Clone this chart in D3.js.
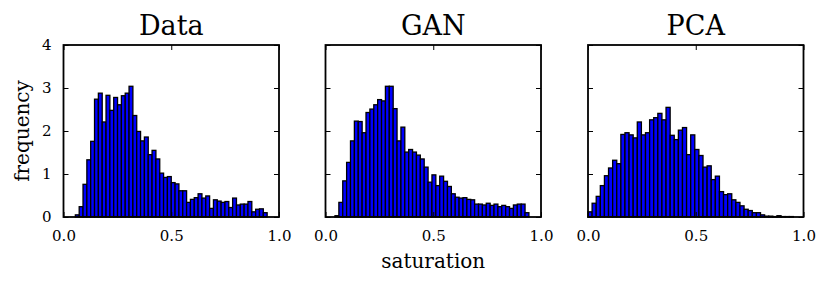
<!DOCTYPE html>
<html lang="en">
<head>
    <meta charset="UTF-8">
    <title>Saturation histograms</title>
    <script src="https://d3js.org/d3.v7.min.js"></script>
    <style>
        body { margin: 0; background: white; }
        svg { display: block; }
        text { font-family: "DejaVu Serif", serif; fill: black; }
        .bar { fill: #0000ff; stroke: black; stroke-width: 1.3px; }
        .frame { fill: none; stroke: black; stroke-width: 1.8px; }
        .tick line { stroke: black; stroke-width: 1px; }
    </style>
</head>
<body>
    <svg width="830" height="286"></svg>

    <script>
        // histogram bin ranges (lo, hi), 50 bins each
        let titles = ["Data", "GAN", "PCA"];
        let binRanges = [[0.055, 0.945], [0.044, 0.944], [0.0, 0.953]];
        let dataCounts = [0.05, 0.24, 0.76, 1.33, 1.76, 2.74, 2.88, 2.21, 2.83, 2.48,
            2.78, 2.61, 2.82, 2.88, 3.04, 2.36, 1.99, 1.77, 1.86, 1.45,
            1.55, 1.35, 1.02, 0.92, 0.94, 0.80, 0.77, 0.61, 0.61, 0.34,
            0.41, 0.45, 0.54, 0.44, 0.49, 0.20, 0.40, 0.37, 0.34, 0.36,
            0.22, 0.44, 0.28, 0.30, 0.30, 0.36, 0.12, 0.18, 0.19, 0.10];
        let ganCounts = [0.03, 0.34, 0.84, 1.27, 1.77, 2.23, 2.22, 1.96, 2.43, 2.51,
            2.61, 2.73, 2.70, 3.04, 3.04, 2.52, 1.77, 2.09, 1.51, 1.57,
            1.51, 1.44, 1.35, 1.16, 0.81, 0.98, 0.73, 0.95, 0.83, 0.71,
            0.54, 0.46, 0.44, 0.45, 0.41, 0.40, 0.30, 0.30, 0.28, 0.32,
            0.27, 0.30, 0.24, 0.27, 0.24, 0.20, 0.28, 0.30, 0.30, 0.10];
        let pcaCounts = [0.12, 0.32, 0.48, 0.73, 0.96, 1.14, 1.32, 1.24, 1.92, 1.96,
            1.91, 1.84, 2.21, 1.91, 1.96, 2.26, 2.31, 2.41, 2.26, 2.55,
            1.90, 1.80, 2.02, 2.08, 1.45, 1.91, 1.57, 1.43, 1.16, 1.19,
            0.87, 0.95, 0.59, 0.52, 0.54, 0.40, 0.34, 0.26, 0.18, 0.15,
            0.10, 0.10, 0.05, 0.02, 0.02, 0.01, 0.03, 0.01, 0.01, 0.01];
        let xTicks = [0, 0.5, 1];
        let yTicks = [0, 1, 2, 3, 4];

        let allCounts = [dataCounts, ganCounts, pcaCounts];
        let panelLeft = [63.5, 325.5, 588];
        let panelW = 215.5, plotTop = 45, plotBottom = 217;

        let svg = d3.select("svg");
        let y = d3.scaleLinear().domain([0, 4]).range([plotBottom, plotTop]);

        allCounts.forEach((counts, p) => {
            let x = d3.scaleLinear().domain([0, 1]).range([panelLeft[p], panelLeft[p] + panelW]);
            let g = svg.append("g");
            let lo = binRanges[p][0], hi = binRanges[p][1];
            let w = (hi - lo) / counts.length;
            let bins = counts.map((c, i) => ({x0: lo + i * w, x1: lo + (i + 1) * w, v: c}));

            g.selectAll(".bar")
                .data(bins)
                .enter().append("rect")
                .attr("class", "bar")
                .attr("x", d => x(d.x0))
                .attr("width", d => x(d.x1) - x(d.x0))
                .attr("y", d => y(d.v))
                .attr("height", d => y(0) - y(d.v));

            // inward ticks on all four sides
            let axB = g.append("g").attr("transform", `translate(0,${plotBottom})`)
                .call(d3.axisBottom(x).tickValues(xTicks).tickSize(-5).tickPadding(13).tickFormat(d3.format(".1f")));
            let axT = g.append("g").attr("transform", `translate(0,${plotTop})`)
                .call(d3.axisTop(x).tickValues(xTicks).tickSize(-5).tickFormat(""));
            let axL = g.append("g").attr("transform", `translate(${panelLeft[p]},0)`)
                .call(d3.axisLeft(y).tickValues(yTicks).tickSize(-5).tickPadding(12)
                    .tickFormat(p === 0 ? d3.format("d") : ""));
            let axR = g.append("g").attr("transform", `translate(${panelLeft[p] + panelW},0)`)
                .call(d3.axisRight(y).tickValues(yTicks).tickSize(-5).tickFormat(""));
            [axB, axT, axL, axR].forEach(a => {
                a.select(".domain").remove();
                a.selectAll("text").style("font-family", '"DejaVu Serif", serif').style("font-size", "15px");
            });

            g.append("rect")
                .attr("class", "frame")
                .attr("x", panelLeft[p]).attr("y", plotTop)
                .attr("width", panelW).attr("height", plotBottom - plotTop);

            g.append("text")
                .attr("x", panelLeft[p] + panelW / 2)
                .attr("y", 35)
                .attr("text-anchor", "middle")
                .style("font-size", "27px")
                .text(titles[p]);
        });

        svg.append("text")
            .attr("x", panelLeft[1] + panelW / 2)
            .attr("y", 268)
            .attr("text-anchor", "middle")
            .style("font-size", "20px")
            .text("saturation");

        svg.append("text")
            .attr("transform", `translate(29,${(plotTop + plotBottom) / 2}) rotate(-90)`)
            .attr("text-anchor", "middle")
            .style("font-size", "20px")
            .text("frequency");
    </script>
</body>
</html>
